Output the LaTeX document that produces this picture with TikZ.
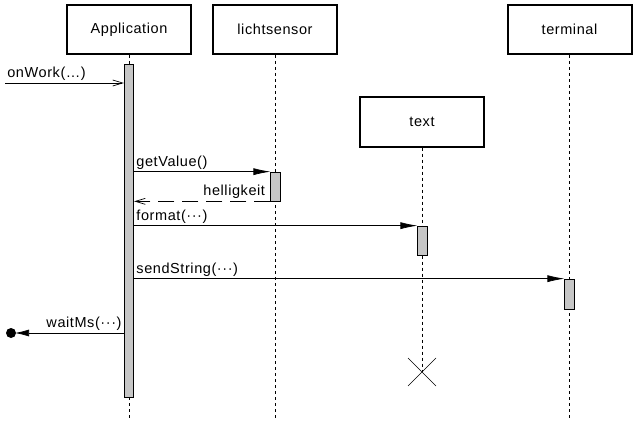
\documentclass[tikz,border=0pt]{standalone}
\usepackage{fontspec}
\setmainfont[LetterSpace=4]{Liberation Sans}
\usepackage{tikz}
\usetikzlibrary{positioning, calc, arrows.meta}

\begin{document}
\begin{tikzpicture}[x=1pt, y=-1pt,
    font=\fontsize{14.5}{16}\selectfont,
    objbox/.style={draw, line width=2pt, minimum width=124pt, minimum height=49pt, inner sep=0pt},
    actbar/.style={draw, fill=gray!45, line width=0.7pt, minimum width=9.5pt, inner sep=0pt},
    lifeline/.style={dashed, dash pattern=on 3pt off 3pt, line width=0.6pt},
    call/.style={-{Latex[length=17pt, width=7pt]}, line width=0.7pt},
    async/.style={-{Straight Barb[length=10pt, width=6pt]}, line width=0.7pt},
    reply/.style={-{Straight Barb[length=10pt, width=6pt]}, line width=0.7pt, dash pattern=on 16pt off 8pt},
    msglabel/.style={inner sep=2pt}
  ]
    \useasboundingbox (0,0) rectangle (635,436);

    % ================= objects =================
    \node[objbox] (app)  at (129,29.5)  {Application};
    \node[objbox] (ls)   at (275,29.5)  {lichtsensor};
    \node[objbox] (txt)  at (422,122)   {text};
    \node[objbox] (term) at (569.5,29.5) {terminal};

    % ================= lifelines =================
    \coordinate (append)  at (129,420);
    \coordinate (lsend)   at (275,420);
    \coordinate (txtend)  at (422,372);
    \coordinate (termend) at (569.5,420);
    \draw[lifeline] (app.south)  -- (append);
    \draw[lifeline] (ls.south)   -- (lsend);
    \draw[lifeline] (txt.south)  -- (txtend);
    \draw[lifeline] (term.south) -- (termend);

    % destroy mark
    \draw[line width=0.6pt] ($(txtend)+(-14,-14)$) -- ($(txtend)+(14,14)$)
                            ($(txtend)+(-14,14)$) -- ($(txtend)+(14,-14)$);

    % ================= activations =================
    \node[actbar, minimum height=333pt] (appact)  at (129,230.5)  {};
    \node[actbar, minimum height=29pt]  (lsact)   at (275.5,186.5) {};
    \node[actbar, minimum height=29pt]  (txtact)  at (422.5,240.5) {};
    \node[actbar, minimum height=30pt]  (termact) at (569.5,294)   {};

    % ================= messages =================
    \coordinate (workstart) at (5,83);
    \draw[async] (workstart) -- (appact.west |- workstart)
        node[pos=0, anchor=south west, msglabel] {onWork(…)};

    \draw[call] (appact.east |- lsact.north west) -- (lsact.north west)
        node[pos=0, anchor=south west, msglabel] {getValue()};

    \draw[reply] (lsact.south west) -- (appact.east |- lsact.south west)
        node[pos=0, anchor=south east, msglabel, xshift=-3pt] {helligkeit};

    \draw[call] (appact.east |- txtact.north west) -- (txtact.north west)
        node[pos=0, anchor=south west, msglabel] {format(···)};

    \draw[call] (appact.east |- termact.north west) -- (termact.north west)
        node[pos=0, anchor=south west, msglabel] {sendString(···)};

    \coordinate (waitend) at (11,333);
    \draw[call, -{Latex[length=14pt, width=7pt]}, shorten >=4pt] (appact.west |- waitend) -- (waitend)
        node[pos=0, anchor=south east, msglabel] {waitMs(···)};
    \fill (waitend) circle (5pt);

\end{tikzpicture}
\end{document}
